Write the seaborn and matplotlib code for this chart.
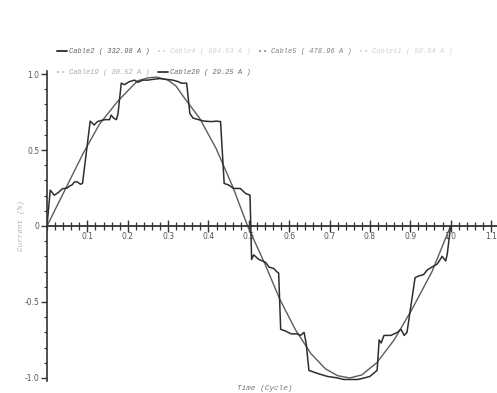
import numpy as np
import pandas as pd
import matplotlib
matplotlib.use("Agg")
import matplotlib.pyplot as plt
from matplotlib.lines import Line2D
from matplotlib.ticker import MultipleLocator, FixedLocator
import seaborn as sns

# ---- data ----
step_t = [0.0, 0.008, 0.018, 0.028, 0.038, 0.05, 0.055, 0.062, 0.068, 0.075, 0.083, 0.088,
          0.107, 0.117, 0.125, 0.135, 0.145, 0.155, 0.159, 0.165, 0.172, 0.176,
          0.184, 0.192, 0.204, 0.217, 0.225, 0.237, 0.25, 0.262, 0.279, 0.296, 0.312, 0.325,
          0.333, 0.34, 0.346, 0.354, 0.362, 0.375, 0.39, 0.408, 0.42, 0.43, 0.439, 0.45,
          0.462, 0.479, 0.492, 0.503, 0.505, 0.507, 0.512, 0.525, 0.542, 0.55, 0.562, 0.569,
          0.574, 0.579, 0.59, 0.605, 0.62, 0.628, 0.637, 0.642, 0.649, 0.67, 0.695, 0.72,
          0.735, 0.752, 0.77, 0.786, 0.80, 0.809, 0.818, 0.823, 0.828, 0.835, 0.852, 0.868,
          0.877, 0.885, 0.892, 0.912, 0.92, 0.933, 0.942, 0.954, 0.967, 0.979, 0.988,
          0.992, 1.0]
step_v = [0.0, 0.236, 0.203, 0.22, 0.245, 0.25, 0.262, 0.27, 0.29, 0.29, 0.275, 0.28,
          0.69, 0.665, 0.687, 0.695, 0.70, 0.70, 0.73, 0.71, 0.70, 0.74,
          0.94, 0.93, 0.95, 0.96, 0.945, 0.96, 0.96, 0.965, 0.97, 0.965, 0.96, 0.95,
          0.94, 0.94, 0.94, 0.74, 0.71, 0.70, 0.69, 0.687, 0.69, 0.687, 0.28, 0.27,
          0.247, 0.247, 0.214, 0.203, 0.0, -0.22, -0.19, -0.22, -0.24, -0.27, -0.28, -0.30,
          -0.31, -0.68, -0.69, -0.71, -0.71, -0.72, -0.70, -0.77, -0.95, -0.97, -0.99, -1.0,
          -1.01, -1.01, -1.01, -1.0, -0.99, -0.97, -0.95, -0.75, -0.77, -0.72, -0.72, -0.70,
          -0.68, -0.72, -0.70, -0.34, -0.33, -0.32, -0.29, -0.27, -0.25, -0.20, -0.23,
          -0.18, 0.0]

smooth_t = [0.0, 0.045, 0.09, 0.13, 0.175, 0.224, 0.25, 0.272, 0.3, 0.32, 0.341, 0.378,
            0.419, 0.46, 0.497, 0.54, 0.5765, 0.615, 0.654, 0.69, 0.72, 0.75, 0.78, 0.817,
            0.86, 0.904, 0.954, 1.0]
smooth_v = [0.0, 0.24, 0.48, 0.67, 0.82, 0.955, 0.975, 0.98, 0.96, 0.92, 0.84, 0.71,
            0.51, 0.26, 0.0, -0.25, -0.48, -0.68, -0.84, -0.94, -0.985, -1.0, -0.98, -0.90,
            -0.75, -0.55, -0.30, 0.0]

legend_labels = ["Cable2 ( 332.98 A )", "Cable4 ( 894.53 A )", "Cable5 ( 478.96 A )",
                 "Cable11 ( 50.64 A )", "Cable19 ( 30.52 A )", "Cable20 ( 29.25 A )"]
legend_line_colors = ["#3a3a3a", "#d8d8d8", "#9a9a9a", "#d8d8d8", "#c4c4c4", "#444444"]
legend_text_colors = ["#5e5e5e", "#d0d0d0", "#7e7e7e", "#cfcfcf", "#a8a8a8", "#666666"]
legend_styles = ["-", ":", ":", ":", ":", "-"]

x_major = [0.1, 0.2, 0.3, 0.4, 0.5, 0.6, 0.7, 0.8, 0.9, 1.0, 1.1]
y_major = [-1.0, -0.5, 0.0, 0.5, 1.0]
y_labels = ["-1.0", "-0.5", "0", "0.5", "1.0"]

# ---- plot ----
sns.set_style("white")
plt.rcParams["font.family"] = ["DejaVu Sans"]

fig = plt.figure(figsize=(4.97, 3.93), dpi=100)
ax = fig.add_axes([47 / 497, 12 / 393, 450 / 497, 310 / 393])

df_step = pd.DataFrame({"t": step_t, "v": step_v})
df_smooth = pd.DataFrame({"t": smooth_t, "v": smooth_v})
sns.lineplot(data=df_smooth, x="t", y="v", ax=ax, color="#5c5c5c", linewidth=1.0,
             estimator=None, sort=False)
sns.lineplot(data=df_step, x="t", y="v", ax=ax, color="#2e2e2e", linewidth=1.1,
             estimator=None, sort=False)

ax.set_xlim(0, 1.115)
ax.set_ylim(-1.02, 1.02)

for s in ["top", "right"]:
    ax.spines[s].set_visible(False)
ax.spines["bottom"].set_position(("data", 0))
ax.spines["bottom"].set_color("#333333")
ax.spines["bottom"].set_linewidth(1.3)
ax.spines["left"].set_color("#333333")
ax.spines["left"].set_linewidth(1.2)

ax.xaxis.set_major_locator(FixedLocator(x_major))
ax.xaxis.set_minor_locator(MultipleLocator(0.02))
ax.set_xticklabels([f"{v:.1f}" for v in x_major])
ax.tick_params(axis="x", which="major", direction="inout", length=9, width=1.0,
               colors="#333333", labelsize=5.5, labelcolor="#555555", pad=0)
ax.tick_params(axis="x", which="minor", direction="inout", length=6, width=0.9,
               colors="#333333")
ax.tick_params(axis="x", which="both", bottom=True)

ax.yaxis.set_major_locator(FixedLocator(y_major))
ax.yaxis.set_minor_locator(MultipleLocator(0.1))
ax.set_yticklabels(y_labels)
ax.tick_params(axis="y", which="major", direction="out", length=4, width=1.0,
               colors="#333333", labelsize=5.5, labelcolor="#555555", pad=1.5)
ax.tick_params(axis="y", which="minor", direction="out", length=2.5, width=0.8,
               colors="#333333")
ax.tick_params(axis="y", which="both", left=True)

ax.set_xlabel("")
ax.set_ylabel("Current (%)", fontsize=5.5, color="#b0b0b0", family="Liberation Mono",
              style="italic")
ax.yaxis.set_label_coords(-22 / 450, 0.5)

fig.text(265 / 497, 5 / 393, "Time (Cycle)", fontsize=5.5, color="#777777",
         family="Liberation Mono", style="italic", ha="center", va="center")

handles = [Line2D([], [], color=c, linestyle=ls, linewidth=1.4)
           for c, ls in zip(legend_line_colors, legend_styles)]
order = [0, 4, 1, 5, 2, 3]
leg = fig.legend([handles[i] for i in order], [legend_labels[i] for i in order],
                 loc="upper left", bbox_to_anchor=(54 / 497, 1 - 45 / 393), ncol=4,
                 frameon=False, handlelength=1.4, handletextpad=0.3, columnspacing=1.2,
                 labelspacing=2.0, borderpad=0,
                 prop={"family": "Liberation Mono", "style": "italic", "size": 5})
for txt, i in zip(leg.get_texts(), order):
    txt.set_color(legend_text_colors[i])

fig.savefig("out.png", dpi=100, facecolor="white")
